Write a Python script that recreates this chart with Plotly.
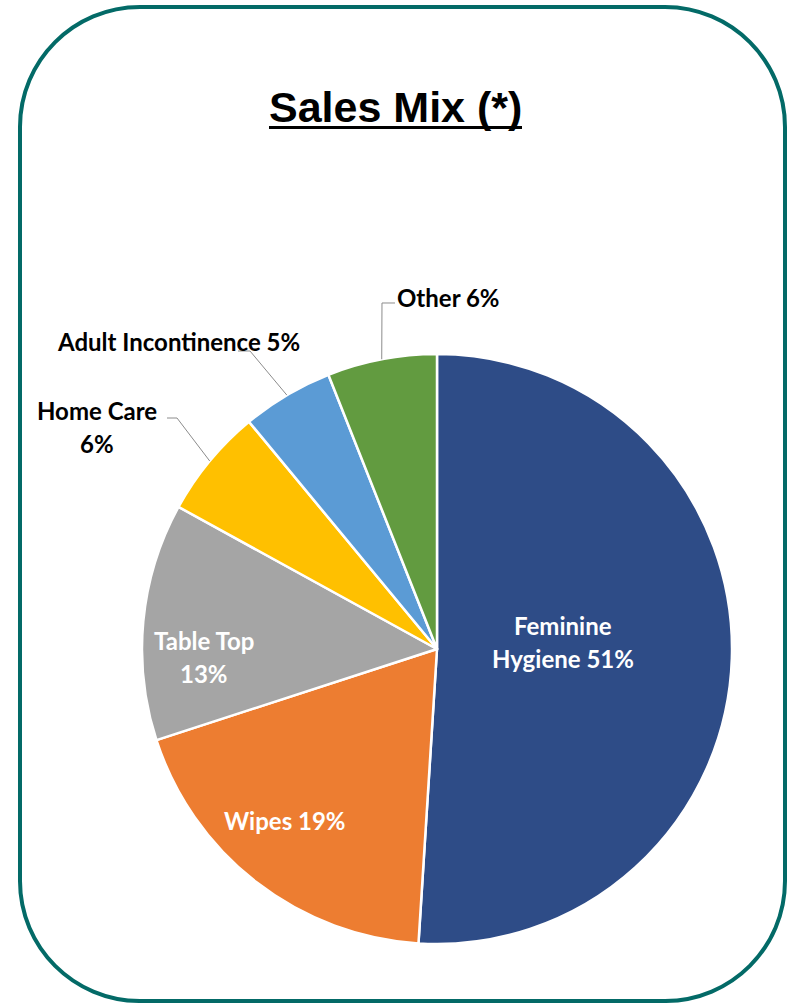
import math
import plotly.graph_objects as go

# ---- data ----
categories = ["Feminine Hygiene", "Wipes", "Table Top", "Home Care", "Adult Incontinence", "Other"]
values = [51, 19, 13, 6, 5, 6]
title_text = "Sales Mix (*)"

# ---- styles / layout ----
colors = ["#2E4C87", "#ED7D31", "#A5A5A5", "#FFC000", "#5B9BD5", "#629B40"]
W, H = 788, 1003
CX, CY, R = 437, 649, 295
label_break = [1, 0, 2, 2, 0, 0]        # words on first line (0 = single line)
label_color = ["white", "white", "white", "black", "black", "black"]
label_pos = [(563, 642), (285, 820), (204, 657), (97, 427), (178, 341), (449, 297)]
leader = {3: [(177, 418), (167, 418)], 4: [(250, 351), (238, 351)], 5: [(382, 303), (395, 303)]}
LINE_GAP = 33
LABEL_FONT = dict(family="Lato", size=24, weight="bold")


def px(x):
    return x / W


def py(y):
    return 1 - y / H


fig = go.Figure(go.Pie(
    labels=categories,
    values=values,
    sort=False,
    direction="clockwise",
    rotation=0,
    marker=dict(colors=colors, line=dict(color="white", width=2.5)),
    textinfo="none",
    hoverinfo="skip",
    showlegend=False,
    domain=dict(x=[px(CX - R), px(CX + R)], y=[py(CY + R), py(CY - R)]),
))

annotations = []
shapes = []

# labels
for i, (cat, val) in enumerate(zip(categories, values)):
    words = f"{cat} {val}%".split(" ")
    if label_break[i]:
        lines = [" ".join(words[:label_break[i]]), " ".join(words[label_break[i]:])]
    else:
        lines = [" ".join(words)]
    cx, cy = label_pos[i]
    n = len(lines)
    for k, ln in enumerate(lines):
        yy = cy + (k - (n - 1) / 2) * LINE_GAP
        annotations.append(dict(
            text=ln, x=px(cx), y=py(yy), xref="paper", yref="paper",
            xanchor="center", yanchor="middle", showarrow=False,
            font=dict(color=label_color[i], **LABEL_FONT),
        ))

# leader lines from slice edge at mid-angle
total = sum(values)
cum = 0
for i, v in enumerate(values):
    mid = (cum + v / 2) / total * 2 * math.pi
    cum += v
    if i in leader:
        ex = CX + R * math.sin(mid)
        ey = CY - R * math.cos(mid)
        pts = [(ex, ey)] + leader[i]
        path = "M " + " L ".join(f"{px(a):.5f},{py(b):.5f}" for a, b in pts)
        shapes.append(dict(type="path", path=path, xref="paper", yref="paper",
                           line=dict(color="#8C8C8C", width=1)))

# rounded border
x0, x1, y0, y1, r = 20, 785, 7, 1001, 120
k = 0.5523
def P(x, y):
    return f"{px(x):.5f},{py(y):.5f}"
border = (
    f"M {P(x0 + r, y0)} L {P(x1 - r, y0)} "
    f"C {P(x1 - r + k * r, y0)} {P(x1, y0 + r - k * r)} {P(x1, y0 + r)} "
    f"L {P(x1, y1 - r)} "
    f"C {P(x1, y1 - r + k * r)} {P(x1 - r + k * r, y1)} {P(x1 - r, y1)} "
    f"L {P(x0 + r, y1)} "
    f"C {P(x0 + r - k * r, y1)} {P(x0, y1 - r + k * r)} {P(x0, y1 - r)} "
    f"L {P(x0, y0 + r)} "
    f"C {P(x0, y0 + r - k * r)} {P(x0 + r - k * r, y0)} {P(x0 + r, y0)} Z"
)
shapes.append(dict(type="path", path=border, xref="paper", yref="paper",
                   line=dict(color="#036A67", width=4), layer="above"))

# title + underline
annotations.append(dict(
    text=f"<b>{title_text}</b>", x=px(395.5), y=py(107), xref="paper", yref="paper",
    xanchor="center", yanchor="middle", showarrow=False,
    font=dict(family="Liberation Sans", size=43, color="black"),
))
shapes.append(dict(type="line", xref="paper", yref="paper",
                   x0=px(269), x1=px(522), y0=py(127.5), y1=py(127.5),
                   line=dict(color="black", width=3)))

fig.update_layout(
    width=W, height=H,
    margin=dict(l=0, r=0, t=0, b=0),
    paper_bgcolor="white", plot_bgcolor="white",
    annotations=annotations, shapes=shapes,
)

fig.write_html("out.html", config={"displayModeBar": False})
